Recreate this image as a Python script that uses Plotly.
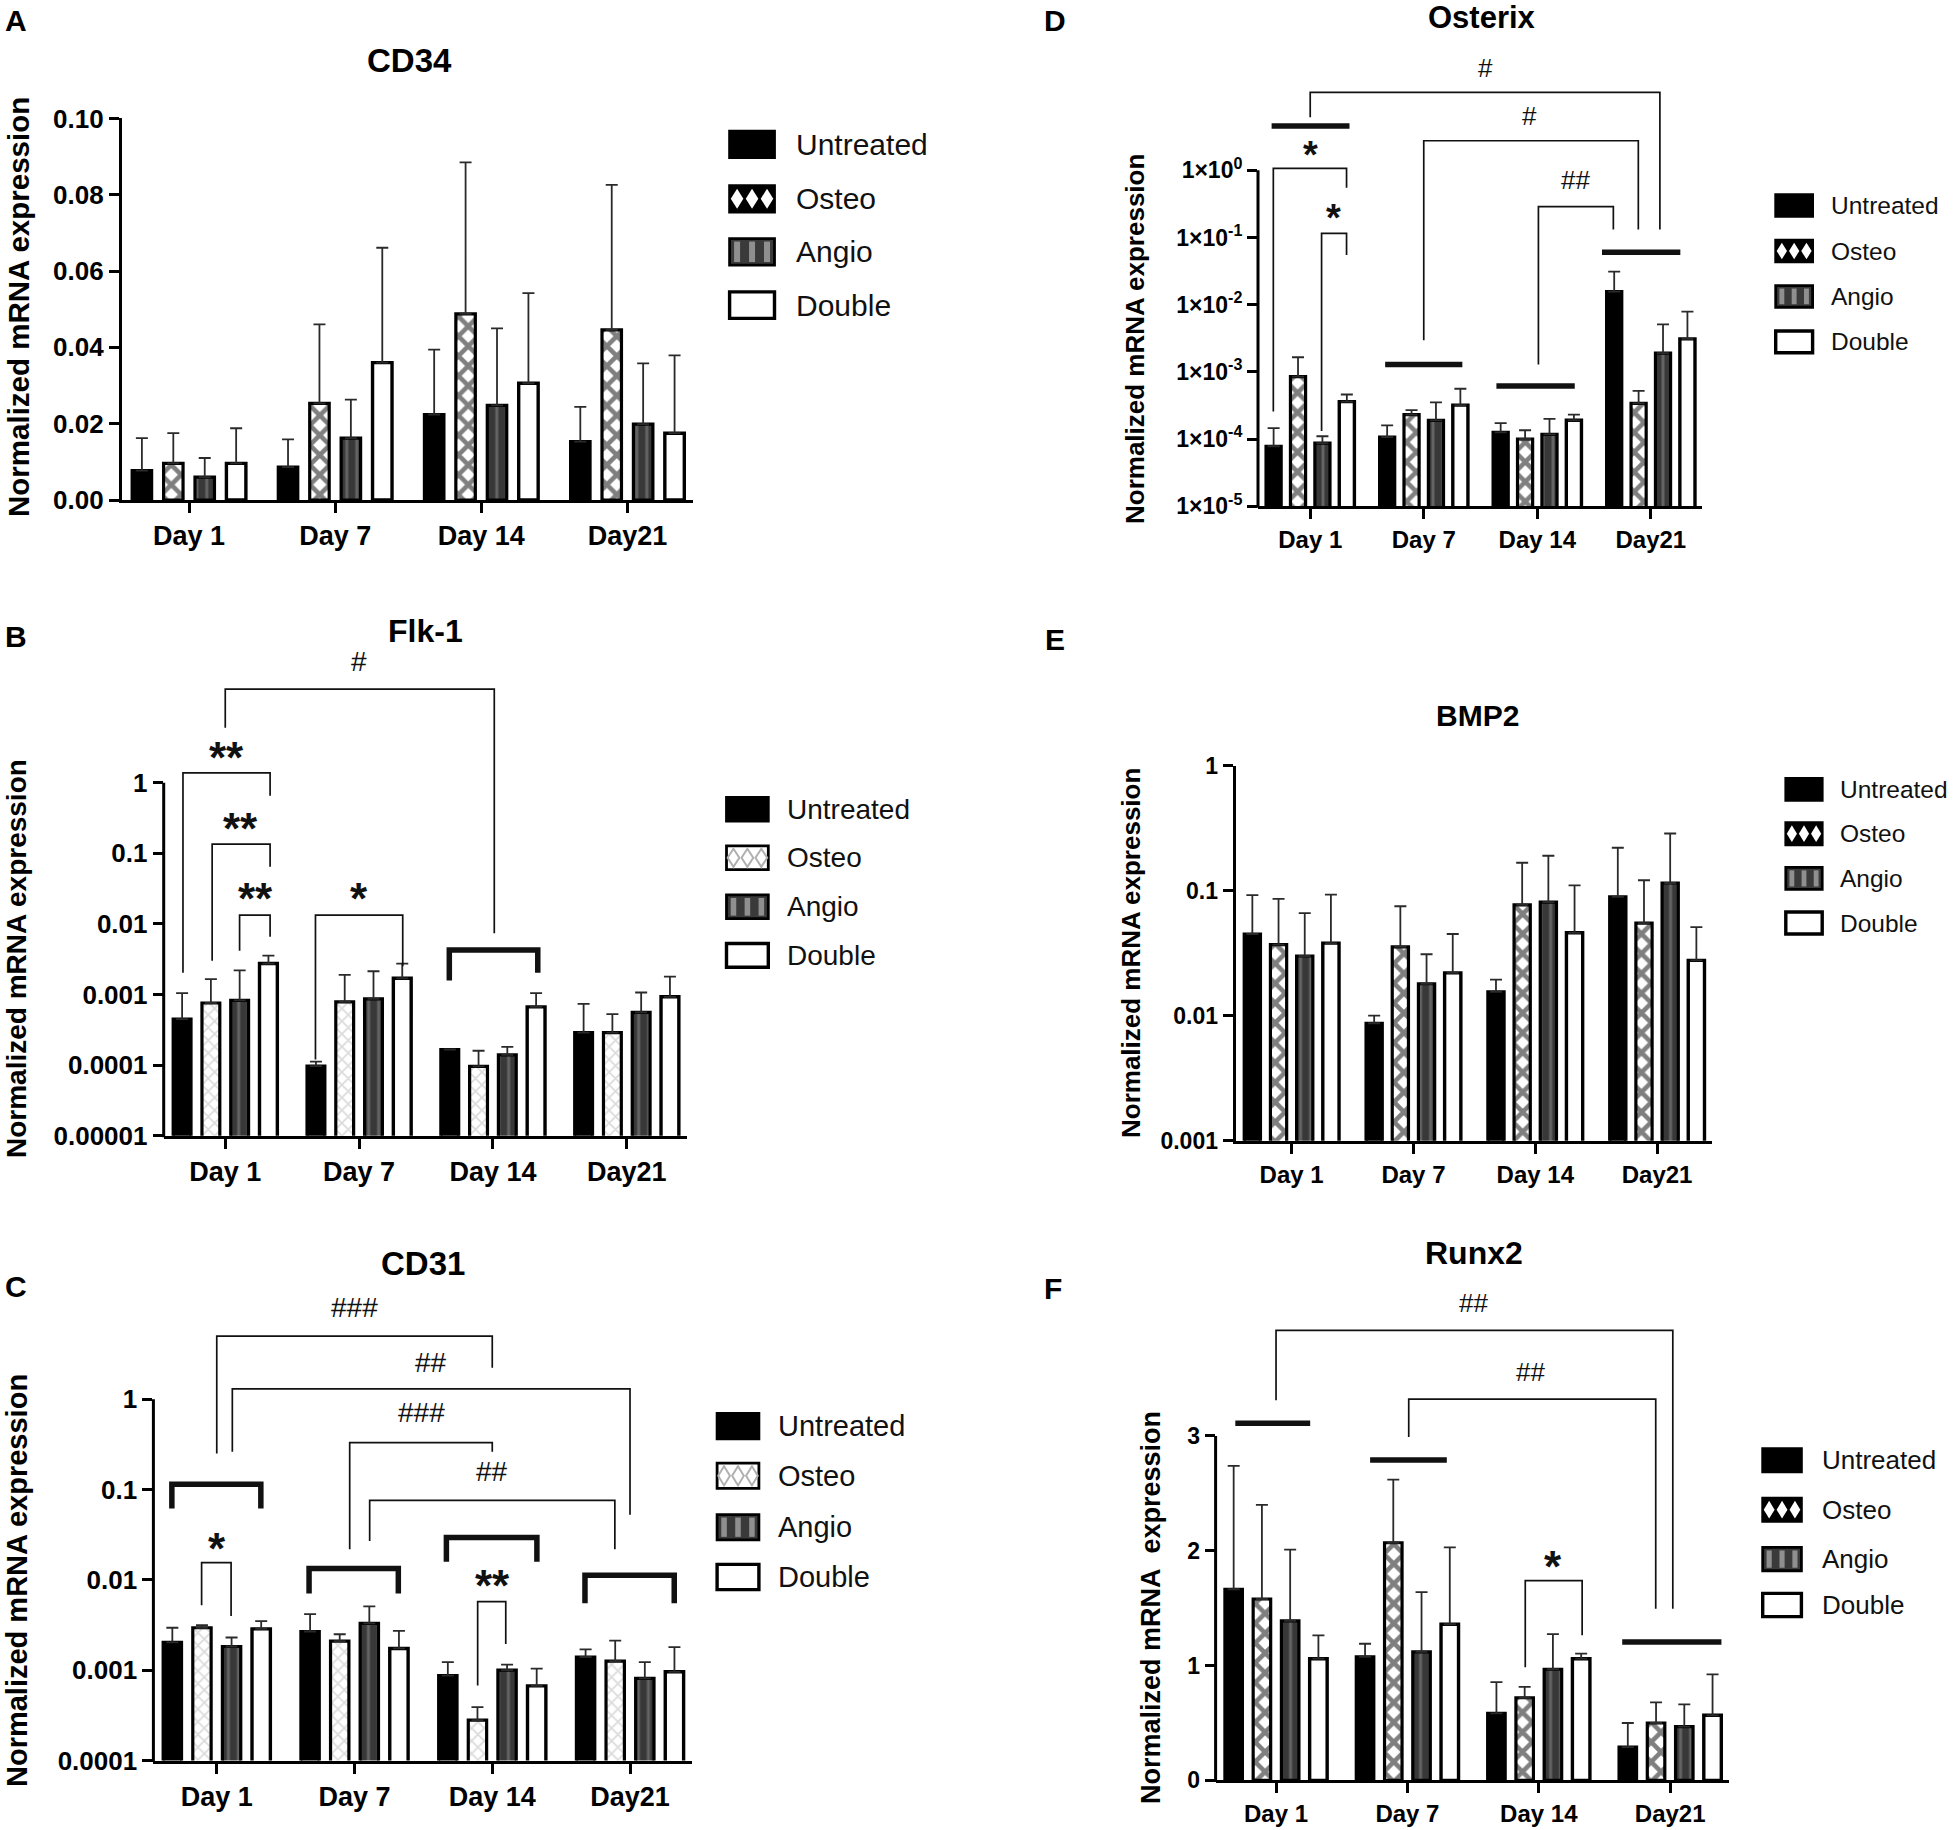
import plotly.graph_objects as go

W, H = 1955, 1830
FONT = "Liberation Sans, Arial, sans-serif"

days = ["Day 1", "Day 7", "Day 14", "Day21"]
groups = ["Untreated", "Osteo", "Angio", "Double"]

# rows: Untreated, Osteo, Angio, Double ; columns: Day 1, Day 7, Day 14, Day21
cd34_mean = [[0.0077, 0.0086, 0.0224, 0.0153],
             [0.0096, 0.0253, 0.0488, 0.0446],
             [0.0060, 0.0162, 0.0248, 0.0199],
             [0.0096, 0.0360, 0.0306, 0.0175]]
cd34_sd = [[0.0085, 0.0073, 0.0170, 0.0091],
           [0.0079, 0.0207, 0.0397, 0.0380],
           [0.0050, 0.0101, 0.0202, 0.0159],
           [0.0092, 0.0301, 0.0236, 0.0204]]

flk1_mean = [[4.5e-4, 9.7e-5, 1.66e-4, 2.9e-4],
             [7.6e-4, 7.9e-4, 9.6e-5, 2.9e-4],
             [8.3e-4, 8.7e-4, 1.4e-4, 5.6e-4],
             [2.75e-3, 1.7e-3, 6.7e-4, 9.3e-4]]
flk1_sd = [[6.0e-4, 1.5e-5, 2e-6, 4.5e-4],
           [8.9e-4, 1.11e-3, 6.4e-5, 2.4e-4],
           [1.37e-3, 1.27e-3, 4.2e-5, 5.1e-4],
           [8.0e-4, 1.04e-3, 3.8e-4, 8.7e-4]]

cd31_mean = [[2.03e-3, 2.68e-3, 8.7e-4, 1.4e-3],
             [2.95e-3, 2.1e-3, 2.8e-4, 1.26e-3],
             [1.83e-3, 3.3e-3, 1.0e-3, 8.1e-4],
             [2.87e-3, 1.74e-3, 6.7e-4, 9.6e-4]]
cd31_sd = [[9.2e-4, 1.49e-3, 3.6e-4, 3.0e-4],
           [2.1e-4, 4.0e-4, 1.1e-4, 8.7e-4],
           [4.7e-4, 1.8e-3, 1.5e-4, 4.2e-4],
           [6.3e-4, 9.9e-4, 3.7e-4, 8.4e-4]]

osx_mean = [[7.8e-5, 1.07e-4, 1.26e-4, 1.56e-2],
            [8.5e-4, 2.3e-4, 1.0e-4, 3.4e-4],
            [8.7e-5, 1.9e-4, 1.17e-4, 1.9e-3],
            [3.6e-4, 3.2e-4, 1.9e-4, 3.1e-3]]
osx_sd = [[6.7e-5, 5.3e-5, 4.7e-5, 1.54e-2],
          [8.0e-4, 4.0e-5, 3.5e-5, 1.8e-4],
          [2.3e-5, 1.6e-4, 8.3e-5, 3.2e-3],
          [1.0e-4, 2.4e-4, 4.0e-5, 4.8e-3]]

bmp2_mean = [[0.045, 0.0087, 0.0155, 0.089],
             [0.037, 0.0355, 0.077, 0.055],
             [0.030, 0.018, 0.081, 0.115],
             [0.038, 0.022, 0.046, 0.0277]]
bmp2_sd = [[0.047, 0.0013, 0.0039, 0.131],
           [0.049, 0.0395, 0.090, 0.066],
           [0.036, 0.013, 0.109, 0.171],
           [0.055, 0.023, 0.064, 0.0233]]

runx2_mean = [[1.665, 1.077, 0.584, 0.289],
              [1.58, 2.07, 0.72, 0.50],
              [1.39, 1.12, 0.968, 0.469],
              [1.06, 1.36, 1.06, 0.567]]
runx2_sd = [[1.075, 0.113, 0.272, 0.211],
            [0.82, 0.55, 0.095, 0.18],
            [0.62, 0.52, 0.306, 0.194],
            [0.204, 0.67, 0.044, 0.357]]

# significance brackets: (x0, x1, y, y_left_end, y_right_end, thick); y in axis units (log10 on log axes)
flk1_brackets = [(-0.316, 0.335, 0.14, -2.69, -0.185, False),
                 (-0.098, 0.335, -0.87, -2.52, -1.19, False),
                 (0.107, 0.335, -1.876, -2.38, -2.18, False),
                 (0.674, 1.326, -1.876, -3.92, -2.60, False),
                 (0.0, 2.01, 1.327, 0.78, -2.13, False),
                 (1.674, 2.335, -2.37, -2.80, -2.69, True)]
flk1_notes = [(0.01, 0.476, "**"), (0.116, -0.53, "**"), (0.228, -1.51, "**"),
              (1.0, -1.51, "*"), (1.0, 1.71, "#")]

cd31_brackets = [(0.0, 2.0, 0.70, -0.60, 0.35, False),
                 (0.113, 3.0, 0.116, -0.58, -1.28, False),
                 (0.965, 2.0, -0.48, -1.66, -0.58, False),
                 (1.11, 2.89, -1.12, -1.57, -1.66, False),
                 (-0.11, 0.104, -1.81, -2.28, -2.40, False),
                 (1.894, 2.098, -2.24, -3.17, -2.71, False),
                 (-0.326, 0.32, -0.94, -1.21, -1.21, True),
                 (0.67, 1.318, -1.875, -2.15, -2.15, True),
                 (1.667, 2.324, -1.53, -1.80, -1.80, True),
                 (2.673, 3.321, -1.95, -2.26, -2.26, True)]
cd31_notes = [(0.997, 1.02, "###"), (1.554, 0.41, "##"), (1.486, -0.15, "###"),
              (1.998, -0.80, "##"), (0.0, -1.55, "*"), (2.0, -1.97, "**")]

osx_brackets = [(-0.34, 0.346, 0.66, None, None, True),
                (0.66, 1.34, -2.89, None, None, True),
                (1.64, 2.33, -3.21, None, None, True),
                (2.57, 3.26, -1.22, None, None, True),
                (-0.325, 0.32, 0.03, -3.59, -0.26, False),
                (0.10, 0.32, -0.94, -3.88, -1.26, False),
                (0.0, 3.08, 1.16, 0.79, -0.88, False),
                (1.0, 2.89, 0.44, -2.53, -0.88, False),
                (2.01, 2.67, -0.54, -2.89, -0.88, False)]
osx_notes = [(0.0, 0.34, "*"), (0.203, -0.59, "*"), (1.54, 1.53, "#"),
             (1.93, 0.81, "#"), (2.34, -0.15, "##")]

runx2_brackets = [(-0.31, 0.26, 3.11, None, None, True),
                  (0.716, 1.30, 2.79, None, None, True),
                  (2.635, 3.39, 1.206, None, None, True),
                  (0.0, 3.02, 3.92, 3.31, 1.495, False),
                  (1.01, 2.89, 3.32, 2.99, 1.495, False),
                  (1.897, 2.33, 1.74, 0.985, 1.264, False)]
runx2_notes = [(1.50, 4.16, "##"), (1.94, 3.56, "##"), (2.11, 1.94, "*")]

log_vals = [1e-5, 1e-4, 1e-3, 1e-2, 1e-1, 1]

# layout of the six panels, in page pixels
panels = [
    dict(letter="A", title="CD34", mean=cd34_mean, sd=cd34_sd, log=False,
         xdom=(121.8, 693.2), ydom=(118.4, 500.0), yrange=[0, 0.1], ytop=None,
         tickvals=[0, 0.02, 0.04, 0.06, 0.08, 0.1],
         ticktext=["0.00", "0.02", "0.04", "0.06", "0.08", "0.10"],
         osteo="dark", brackets=[], notes=[],
         title_xy=(409, 61), letter_xy=(16, 20), ytitle_xy=(18, 307),
         leg_x=(729.6, 774.5), leg_y=[144.3, 198.8, 251.8, 305.1], leg_h=26.5, leg_tx=794,
         tick=26, xtick=27, leg=30, ytitle=29.5, tsize=33, ytext="Normalized mRNA expression"),
    dict(letter="B", title="Flk-1", mean=flk1_mean, sd=flk1_sd, log=True,
         xdom=(163.7, 687.0), ydom=(652.1, 1135.8), yrange=[-5, 1.85], ytop=0,
         tickvals=log_vals, ticktext=["0.00001", "0.0001", "0.001", "0.01", "0.1", "1"],
         osteo="light", brackets=flk1_brackets, notes=flk1_notes,
         title_xy=(425, 631), letter_xy=(16, 637), ytitle_xy=(17, 959),
         leg_x=(726.5, 768.3), leg_y=[809.2, 857.8, 906.8, 955.4], leg_h=23.7, leg_tx=785,
         tick=26, xtick=27, leg=28, ytitle=28, tsize=32, ytext="Normalized mRNA expression"),
    dict(letter="C", title="CD31", mean=cd31_mean, sd=cd31_sd, log=True,
         xdom=(153.4, 692.0), ydom=(1295.4, 1760.5), yrange=[-4, 1.15], ytop=0,
         tickvals=log_vals[1:], ticktext=["0.0001", "0.001", "0.01", "0.1", "1"],
         osteo="light", brackets=cd31_brackets, notes=cd31_notes,
         title_xy=(423, 1263), letter_xy=(16, 1286), ytitle_xy=(17, 1581),
         leg_x=(717.1, 758.9), leg_y=[1426.1, 1475.8, 1527.2, 1577.0], leg_h=25.3, leg_tx=776,
         tick=26, xtick=27, leg=29, ytitle=29, tsize=33, ytext="Normalized mRNA expression"),
    dict(letter="D", title="Osterix", mean=osx_mean, sd=osx_sd, log=True,
         xdom=(1258.0, 1701.9), ydom=(56.1, 506.2), yrange=[-5, 1.7], ytop=0,
         tickvals=log_vals,
         ticktext=["1×10<sup>-5</sup>", "1×10<sup>-4</sup>", "1×10<sup>-3</sup>",
                   "1×10<sup>-2</sup>", "1×10<sup>-1</sup>", "1×10<sup>0</sup>"],
         osteo="dark", brackets=osx_brackets, notes=osx_notes,
         title_xy=(1482, 17), letter_xy=(1055, 20), ytitle_xy=(1135, 339),
         leg_x=(1775.7, 1812.6), leg_y=[205.5, 251.0, 296.4, 341.9], leg_h=21.7, leg_tx=1829,
         tick=23, xtick=24, leg=24.5, ytitle=26, tsize=31, ytext="Normalized mRNA expression"),
    dict(letter="E", title="BMP2", mean=bmp2_mean, sd=bmp2_sd, log=True,
         xdom=(1235.6, 1711.9), ydom=(765.5, 1140.8), yrange=[-3, 0], ytop=None,
         tickvals=log_vals[2:], ticktext=["0.001", "0.01", "0.1", "1"],
         osteo="dark", brackets=[], notes=[],
         title_xy=(1477, 716), letter_xy=(1055, 639), ytitle_xy=(1131, 953),
         leg_x=(1785.8, 1822.2), leg_y=[789.4, 833.7, 878.4, 923.0], leg_h=22.1, leg_tx=1838,
         tick=23, xtick=24, leg=24.5, ytitle=26, tsize=30, ytext="Normalized mRNA expression"),
    dict(letter="F", title="Runx2", mean=runx2_mean, sd=runx2_sd, log=False,
         xdom=(1215.6, 1729.3), ydom=(1286.7, 1780.4), yrange=[0, 4.3], ytop=3,
         tickvals=[0, 1, 2, 3], ticktext=["0", "1", "2", "3"],
         osteo="dark", brackets=runx2_brackets, notes=runx2_notes,
         title_xy=(1474, 1253), letter_xy=(1053, 1288), ytitle_xy=(1151, 1608),
         leg_x=(1762.7, 1801.4), leg_y=[1460.3, 1509.7, 1559.1, 1605.0], leg_h=23.3, leg_tx=1820,
         tick=23, xtick=24, leg=26, ytitle=27, tsize=32, ytext="Normalized mRNA&nbsp; expression"),
]


def px(x):
    return x / W


def py(y):
    return 1 - y / H


def bar_marker(g, osteo):
    line = dict(color="black", width=3.2)
    if g == 0:
        return dict(color="black", line=line)
    if g == 1:
        if osteo == "dark":
            pat = dict(shape="x", fgcolor="black", bgcolor="white", size=14, solidity=0.55)
        else:
            pat = dict(shape="x", fgcolor="#b8b8b8", bgcolor="white", size=9, solidity=0.35)
        return dict(color="white", line=line, pattern=pat)
    if g == 2:
        return dict(color="#3a3a3a", line=line,
                    pattern=dict(shape="|", fgcolor="#8f8f8f", bgcolor="#383838", size=10, solidity=0.3))
    return dict(color="white", line=dict(color="black", width=3.4))


def swatch(shapes, g, osteo, x0, x1, yc, h):
    X0, X1 = px(x0), px(x1)
    Yb, Yt = py(yc + h / 2), py(yc - h / 2)
    fills = ["black", "black" if osteo == "dark" else "white", "#3a3a3a", "white"]
    shapes.append(dict(type="rect", xref="paper", yref="paper", x0=X0, x1=X1, y0=Yb, y1=Yt,
                       fillcolor=fills[g], line=dict(color="black", width=3.4 if g == 3 else 2.8)))
    w = (x1 - x0) / 3
    if g == 1:
        for i in range(3):
            cx = x0 + (i + 0.5) * w
            path = "M{},{} L{},{} L{},{} L{},{} Z".format(
                px(cx), py(yc - h * 0.38), px(cx + w * 0.42), py(yc),
                px(cx), py(yc + h * 0.38), px(cx - w * 0.42), py(yc))
            if osteo == "dark":
                shapes.append(dict(type="path", xref="paper", yref="paper", path=path,
                                   fillcolor="white", line=dict(width=0)))
            else:
                shapes.append(dict(type="path", xref="paper", yref="paper", path=path,
                                   fillcolor="rgba(0,0,0,0)", line=dict(color="#b0b0b0", width=2)))
    if g == 2:
        for i in range(3):
            cx = x0 + (i + 0.5) * w
            shapes.append(dict(type="rect", xref="paper", yref="paper",
                               x0=px(cx - w * 0.2), x1=px(cx + w * 0.2),
                               y0=py(yc + h / 2 - 3), y1=py(yc - h / 2 + 3),
                               fillcolor="#8f8f8f", line=dict(width=0)))


fig = go.Figure()
shapes = []
annotations = []
layout = {}

for n, p in enumerate(panels, start=1):
    sfx = "" if n == 1 else str(n)
    xa, ya = "x" + sfx, "y" + sfx

    for g, name in enumerate(groups):
        fig.add_trace(go.Bar(
            x=[0, 1, 2, 3], y=p["mean"][g], name=name, xaxis=xa, yaxis=ya,
            marker=bar_marker(g, p["osteo"]),
            error_y=dict(type="data", symmetric=False, array=p["sd"][g], arrayminus=[0, 0, 0, 0],
                         color="#2a2a2a", thickness=1.8, width=6),
            showlegend=False, hoverinfo="skip"))

    conv = (lambda v: 10 ** v) if p["log"] else (lambda v: v)
    for x0, x1, y, yl, yr, thick in p["brackets"]:
        if yl is None:
            bx, by = [x0, x1], [conv(y), conv(y)]
        else:
            bx, by = [x0, x0, x1, x1], [conv(yl), conv(y), conv(y), conv(yr)]
        fig.add_trace(go.Scatter(x=bx, y=by, mode="lines", xaxis=xa, yaxis=ya,
                                 line=dict(color="#111111", width=5.5 if thick else 1.7),
                                 showlegend=False, hoverinfo="skip"))

    for x, y, txt in p["notes"]:
        star = "*" in txt
        size = (38 if n == 4 else 44) if star else (26 if n >= 4 else 28)
        annotations.append(dict(x=x, y=y, xref=xa, yref=ya, text=txt, showarrow=False,
                                yshift=-0.2 * size if star else 0,
                                font=dict(family=FONT, size=size, color="#111111",
                                          weight="bold" if star else "normal")))

    x0d, x1d = p["xdom"]
    y0d, y1d = p["ydom"]
    layout["xaxis" + sfx] = dict(
        domain=[px(x0d), px(x1d)], anchor=ya, range=[-0.46, 3.45], automargin=False,
        tickmode="array", tickvals=[0, 1, 2, 3], ticktext=days,
        showline=True, linewidth=3, linecolor="black", ticks="outside", ticklen=10,
        tickwidth=3, tickcolor="black", showgrid=False, zeroline=False,
        tickfont=dict(family=FONT, size=p["xtick"], color="black", weight="bold"))
    layout["yaxis" + sfx] = dict(
        domain=[py(y1d), py(y0d)], anchor=xa, type="log" if p["log"] else "linear",
        range=p["yrange"], automargin=False,
        tickmode="array", tickvals=p["tickvals"], ticktext=p["ticktext"],
        showline=p["ytop"] is None, linewidth=3, linecolor="black", ticks="outside",
        ticklen=10, tickwidth=3, tickcolor="black", showgrid=False, zeroline=False,
        tickfont=dict(family=FONT, size=p["tick"], color="black", weight="bold"))

    if p["ytop"] is not None:
        r0, r1 = p["yrange"]
        ytop_px = y1d - (p["ytop"] - r0) / (r1 - r0) * (y1d - y0d)
        shapes.append(dict(type="line", xref="paper", yref="paper",
                           x0=px(x0d), x1=px(x0d), y0=py(y1d + 1.5), y1=py(ytop_px),
                           line=dict(color="black", width=3)))

    # panel title, letter and y-axis title
    annotations.append(dict(x=px(p["title_xy"][0]), y=py(p["title_xy"][1]), xref="paper", yref="paper",
                            text=p["title"], showarrow=False, xanchor="center", yanchor="middle",
                            font=dict(family=FONT, size=p["tsize"], color="black", weight="bold")))
    annotations.append(dict(x=px(p["letter_xy"][0]), y=py(p["letter_xy"][1]), xref="paper", yref="paper",
                            text=p["letter"], showarrow=False, xanchor="center", yanchor="middle",
                            font=dict(family=FONT, size=30, color="black", weight="bold")))
    annotations.append(dict(x=px(p["ytitle_xy"][0]), y=py(p["ytitle_xy"][1]), xref="paper", yref="paper",
                            text=p["ytext"], showarrow=False, textangle=-90,
                            xanchor="center", yanchor="middle",
                            font=dict(family=FONT, size=p["ytitle"], color="black", weight="bold")))

    # legend drawn by hand so the swatches keep their size
    for g, name in enumerate(groups):
        yc = p["leg_y"][g]
        swatch(shapes, g, p["osteo"], p["leg_x"][0], p["leg_x"][1], yc, p["leg_h"])
        annotations.append(dict(x=px(p["leg_tx"]), y=py(yc), xref="paper", yref="paper",
                                text=name, showarrow=False, xanchor="left", yanchor="middle",
                                font=dict(family=FONT, size=p["leg"], color="#111111")))

fig.update_layout(
    width=W, height=H, margin=dict(l=0, r=0, t=0, b=0),
    paper_bgcolor="white", plot_bgcolor="white",
    barmode="group", bargap=0.14, bargroupgap=0.38, showlegend=False,
    shapes=shapes, annotations=annotations, **layout)

# the page body has a default 8px margin; drop it so the figure fills the window
fig.write_html("out.html", config=dict(displayModeBar=False),
               post_script="document.body.style.margin='0px';")
